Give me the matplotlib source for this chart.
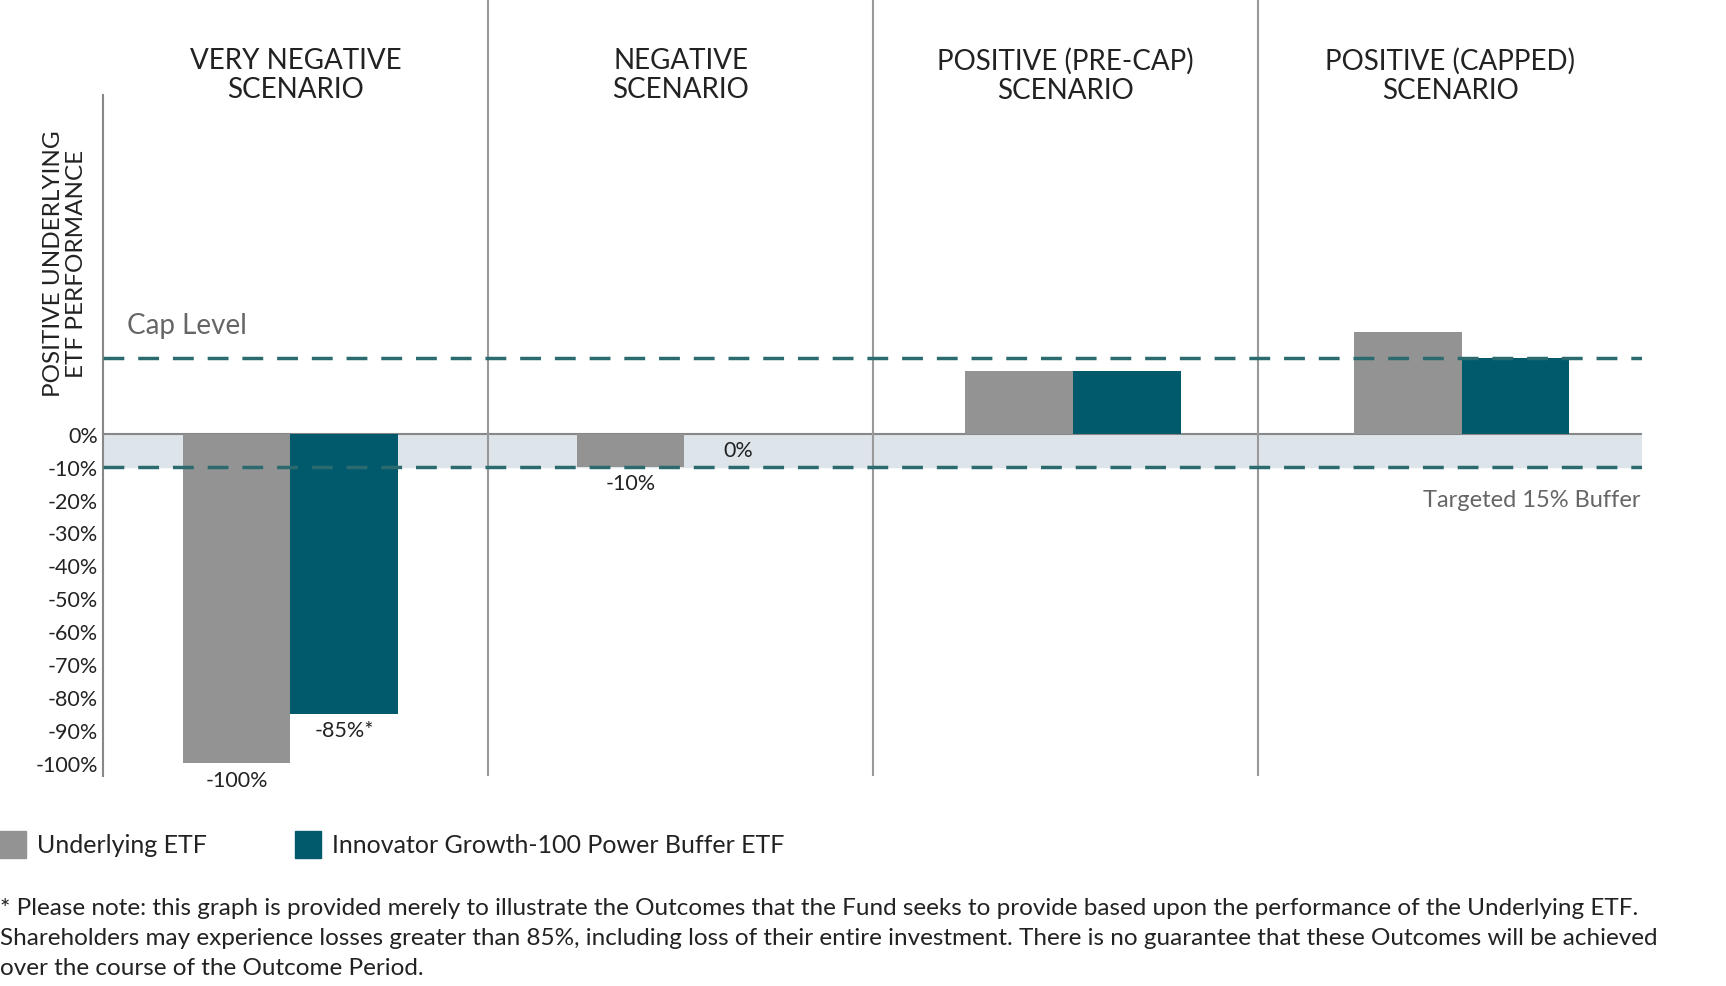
import matplotlib
matplotlib.use("Agg")
import matplotlib.pyplot as plt
from matplotlib.patches import Rectangle

plt.rcParams['font.family'] = ['Lato', 'DejaVu Sans']

scenarios = ["VERY NEGATIVE\nSCENARIO", "NEGATIVE\nSCENARIO", "POSITIVE (PRE-CAP)\nSCENARIO", "POSITIVE (CAPPED)\nSCENARIO"]
underlying = [-100, -10, 19, 31]
buffer_etf = [-85, 0, 19, 23]
under_labels = ["-100%", "-10%", None, None]
buffer_labels = ["-85%*", "0%", None, None]
cap_level = 23
buffer_level = -10
yticks = [0, -10, -20, -30, -40, -50, -60, -70, -80, -90, -100]

GRAY = "#939393"; TEAL = "#005a6b"; DASH = "#2b6b70"; BAND = "#dde4ea"; TXT = "#222222"

W, H = 1568, 896.6
fig = plt.figure(figsize=(17.26, 9.87), dpi=100)
ax = fig.add_axes([94/W, 1-706/H, (1492-94)/W, 706/H])
ax.set_xlim(0, 4)
ax.set_ylim(-104, 132)
for s in ax.spines.values():
    s.set_visible(False)
ax.set_xticks([])
ax.set_yticks(yticks)
ax.set_yticklabels([f"{t}%" for t in yticks], fontsize=15.5, color=TXT)
ax.tick_params(axis='y', length=0, pad=4)
ax.plot([0, 0], [-104, 103], color="#888888", lw=1.5, clip_on=False)

ax.axhspan(buffer_level, 0, color=BAND, zorder=0)
ax.axhline(0, color="#888888", lw=1.5, zorder=1)
for b in [1, 2, 3]:
    ax.plot([b, b], [-104, 132], color="#999999", lw=1.5, zorder=1)

w = 0.28
centers = [0.486, 1.51, 2.52, 3.53]
for i, c in enumerate(centers):
    ax.bar(c - w/2, underlying[i], w, color=GRAY, zorder=2)
    if buffer_etf[i] != 0:
        ax.bar(c + w/2, buffer_etf[i], w, color=TEAL, zorder=2)
    if under_labels[i]:
        ax.text(c - w/2, underlying[i] - 2, under_labels[i], ha='center', va='top', fontsize=15.5, color=TXT)
    if buffer_labels[i]:
        yy = buffer_etf[i] - 2
        ax.text(c + w/2, yy, buffer_labels[i], ha='center', va='top', fontsize=15.5, color=TXT)
    ax.text(i + 0.5, 109, scenarios[i], ha='center', va='center', fontsize=20, color=TXT, linespacing=1.15)

ax.axhline(cap_level, color=DASH, lw=2.5, ls=(0, (6, 4)), zorder=3)
ax.axhline(buffer_level, color=DASH, lw=2.5, ls=(0, (6, 4)), zorder=3)
ax.text(0.06, 33, "Cap Level", fontsize=20, color="#666666", va='center')
ax.text(3.995, -20, "Targeted 15% Buffer", fontsize=17, color="#666666", va='center', ha='right')
ax.text(-0.1, 52, "POSITIVE UNDERLYING\nETF PERFORMANCE", rotation=90, ha='center', va='center',
        fontsize=17.5, color=TXT, linespacing=1.1)

# legend
fig.patches.append(Rectangle((0, 1-780/H), 24/W, 24/H, transform=fig.transFigure, color=GRAY))
fig.text(34/W, 1-768/H, "Underlying ETF", fontsize=18, va='center', color=TXT)
fig.patches.append(Rectangle((268/W, 1-780/H), 24/W, 24/H, transform=fig.transFigure, color=TEAL))
fig.text(302/W, 1-768/H, "Innovator Growth-100 Power Buffer ETF", fontsize=18, va='center', color=TXT)

foot = ["* Please note: this graph is provided merely to illustrate the Outcomes that the Fund seeks to provide based upon the performance of the Underlying ETF.",
        "Shareholders may experience losses greater than 85%, including loss of their entire investment. There is no guarantee that these Outcomes will be achieved",
        "over the course of the Outcome Period."]
for k, line in enumerate(foot):
    fig.text(0, 1-(825+27.5*k)/H, line, fontsize=17.5, va='center', color=TXT)

fig.savefig("out.png", dpi=100, facecolor="white")
